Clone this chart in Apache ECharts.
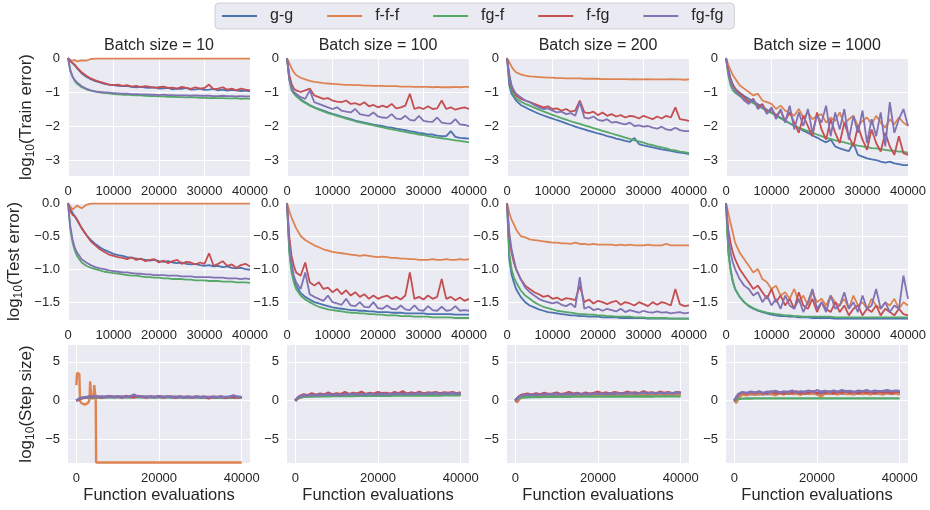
<!DOCTYPE html>
<html><head><meta charset="utf-8">
<script src="https://cdn.jsdelivr.net/npm/echarts@6/dist/echarts.min.js"></script>
<style>html,body{margin:0;padding:0;background:#fff}#c{width:930px;height:510px}</style>
</head><body><div id="c"></div>
<script>
const SERIES_NAMES = ['g-g','f-f-f','fg-f','f-fg','fg-fg'];
const COLORS = ['#4C72B0','#DD8452','#55A868','#C44E52','#8172B3'];
const BATCH_TITLES = ['Batch size = 10','Batch size = 100','Batch size = 200','Batch size = 1000'];
const ROW_NAMES = ['Train error','Test error','Step size'];
const X_TICKS_TOP = [0,10000,20000,30000,40000];
const X_TICKS_STEP = [0,20000,40000];
const Y_TICKS_TRAIN = [-3,-2,-1,0];
const Y_TICKS_TEST = [-1.5,-1,-0.5,0];
const Y_TICKS_STEP = [-5,0,5];

const X = [0,500,1000,1500,2000,
 3000,4000,5000,6000,7000,8000,9000,10000,11000,12000,
 13000,14000,15000,16000,17000,18000,19000,20000,21000,22000,
 23000,24000,25000,26000,27000,28000,29000,30000,31000,32000,
 33000,34000,35000,36000,37000,38000,39000,40000];

// ---- Train error, batch 10
const train10_gg = [0,-0.08,-0.15,-0.22,-0.3,
 -0.45,-0.55,-0.62,-0.68,-0.72,-0.76,-0.78,-0.8,-0.82,-0.83,
 -0.82,-0.85,-0.86,-0.84,-0.87,-0.88,-0.86,-0.9,-0.89,-0.88,
 -0.92,-0.9,-0.91,-0.88,-0.93,-0.92,-0.9,-0.94,-0.93,-0.91,
 -0.95,-0.93,-0.96,-0.94,-0.95,-0.97,-0.96,-0.98];
const train10_fff = [0,-0.05,-0.08,-0.06,-0.1,
 -0.07,-0.08,-0.03,-0.02,-0.02,-0.02,-0.02,-0.02,-0.02,-0.02,
 -0.02,-0.02,-0.02,-0.02,-0.02,-0.02,-0.02,-0.02,-0.02,-0.02,
 -0.02,-0.02,-0.02,-0.02,-0.02,-0.02,-0.02,-0.02,-0.02,-0.02,
 -0.02,-0.02,-0.02,-0.02,-0.02,-0.02,-0.02,-0.02];
const train10_fgf = [0,-0.35,-0.55,-0.68,-0.76,
 -0.86,-0.92,-0.96,-0.99,-1.01,-1.03,-1.04,-1.06,-1.07,-1.08,
 -1.08,-1.09,-1.1,-1.1,-1.11,-1.12,-1.12,-1.13,-1.13,-1.14,
 -1.14,-1.15,-1.15,-1.16,-1.15,-1.16,-1.17,-1.17,-1.18,-1.17,
 -1.18,-1.18,-1.19,-1.19,-1.18,-1.2,-1.19,-1.2];
const train10_ffg = [0,-0.1,-0.15,-0.2,-0.28,
 -0.42,-0.52,-0.6,-0.66,-0.7,-0.74,-0.78,-0.8,-0.78,-0.82,
 -0.8,-0.84,-0.82,-0.86,-0.83,-0.85,-0.88,-0.86,-0.84,-0.88,
 -0.87,-0.9,-0.85,-0.88,-0.91,-0.86,-0.9,-0.88,-0.78,-0.92,
 -0.9,-0.86,-0.93,-0.9,-0.95,-0.9,-0.93,-0.95];
const train10_fgfg = [0,-0.38,-0.55,-0.65,-0.72,
 -0.83,-0.9,-0.95,-0.98,-1.0,-1.01,-1.02,-1.03,-1.04,-1.05,
 -1.05,-1.06,-1.06,-1.07,-1.07,-1.08,-1.08,-1.09,-1.08,-1.09,
 -1.09,-1.1,-1.1,-1.1,-1.11,-1.1,-1.11,-1.11,-1.11,-1.12,
 -1.12,-1.11,-1.12,-1.12,-1.13,-1.12,-1.13,-1.13];

// ---- Train error, batch 100
const train100_gg = [0,-0.6,-0.9,-1.02,-1.1,
 -1.22,-1.3,-1.38,-1.45,-1.5,-1.55,-1.6,-1.64,-1.68,-1.72,
 -1.76,-1.8,-1.84,-1.87,-1.9,-1.93,-1.96,-1.98,-2.0,-2.03,
 -2.05,-2.08,-2.1,-2.12,-2.15,-2.17,-2.2,-2.22,-2.25,-2.25,
 -2.28,-2.3,-2.3,-2.15,-2.32,-2.35,-2.36,-2.37];
const train100_fff = [0,-0.15,-0.3,-0.42,-0.5,
 -0.58,-0.63,-0.67,-0.7,-0.72,-0.74,-0.75,-0.76,-0.77,-0.78,
 -0.79,-0.79,-0.8,-0.8,-0.81,-0.81,-0.82,-0.82,-0.82,-0.83,
 -0.83,-0.83,-0.84,-0.84,-0.84,-0.85,-0.85,-0.85,-0.85,-0.86,
 -0.85,-0.86,-0.86,-0.86,-0.85,-0.86,-0.85,-0.85];
const train100_fgf = [0,-0.65,-0.95,-1.05,-1.12,
 -1.24,-1.32,-1.4,-1.46,-1.52,-1.57,-1.62,-1.66,-1.7,-1.74,
 -1.78,-1.82,-1.86,-1.89,-1.92,-1.95,-1.98,-2.01,-2.04,-2.07,
 -2.1,-2.12,-2.15,-2.17,-2.2,-2.22,-2.25,-2.27,-2.3,-2.32,
 -2.34,-2.36,-2.38,-2.4,-2.42,-2.44,-2.46,-2.48];
const train100_ffg = [0,-0.5,-0.75,-0.9,-0.95,
 -1.0,-0.95,-0.9,-1.1,-1.15,-1.2,-1.18,-1.25,-1.28,-1.3,
 -1.25,-1.35,-1.33,-1.38,-1.3,-1.42,-1.38,-1.45,-1.4,-1.45,
 -1.35,-1.48,-1.45,-1.4,-1.05,-1.5,-1.45,-1.5,-1.42,-1.5,
 -1.48,-1.25,-1.5,-1.45,-1.52,-1.48,-1.45,-1.5];
const train100_fgfg = [0,-0.6,-0.85,-1.0,-1.05,
 -1.15,-1.2,-0.95,-1.3,-1.35,-1.4,-1.45,-1.5,-1.45,-1.55,
 -1.58,-1.6,-1.5,-1.65,-1.68,-1.7,-1.6,-1.72,-1.75,-1.76,
 -1.65,-1.78,-1.8,-1.7,-1.82,-1.84,-1.7,-1.85,-1.87,-1.88,
 -1.75,-1.9,-1.92,-1.93,-1.8,-1.95,-1.97,-2.0];

// ---- Train error, batch 200
const train200_gg = [0,-0.8,-1.05,-1.15,-1.25,
 -1.38,-1.45,-1.52,-1.58,-1.64,-1.69,-1.74,-1.78,-1.83,-1.87,
 -1.92,-1.97,-2.02,-2.06,-2.1,-2.14,-2.18,-2.22,-2.25,-2.3,
 -2.33,-2.37,-2.4,-2.44,-2.47,-2.35,-2.53,-2.57,-2.6,-2.63,
 -2.66,-2.69,-2.71,-2.73,-2.76,-2.78,-2.8,-2.83];
const train200_fff = [0,-0.12,-0.25,-0.35,-0.42,
 -0.48,-0.52,-0.54,-0.55,-0.56,-0.57,-0.58,-0.58,-0.59,-0.59,
 -0.6,-0.6,-0.6,-0.6,-0.61,-0.61,-0.61,-0.61,-0.62,-0.62,
 -0.62,-0.62,-0.62,-0.62,-0.63,-0.62,-0.63,-0.63,-0.62,-0.63,
 -0.63,-0.63,-0.63,-0.62,-0.63,-0.63,-0.64,-0.63];
const train200_fgf = [0,-0.6,-0.95,-1.1,-1.18,
 -1.28,-1.35,-1.4,-1.46,-1.52,-1.57,-1.62,-1.67,-1.72,-1.77,
 -1.81,-1.86,-1.9,-1.94,-1.98,-2.02,-2.06,-2.1,-2.14,-2.18,
 -2.22,-2.26,-2.3,-2.34,-2.38,-2.42,-2.45,-2.49,-2.53,-2.56,
 -2.6,-2.63,-2.66,-2.7,-2.72,-2.75,-2.77,-2.8];
const train200_ffg = [0,-0.5,-0.85,-1.0,-1.1,
 -1.2,-1.25,-1.3,-1.35,-1.4,-1.45,-1.42,-1.5,-1.48,-1.55,
 -1.5,-1.58,-1.55,-1.25,-1.6,-1.62,-1.58,-1.68,-1.6,-1.7,
 -1.65,-1.72,-1.68,-1.75,-1.7,-1.72,-1.78,-1.7,-1.75,-1.8,
 -1.72,-1.78,-1.7,-1.75,-1.45,-1.8,-1.82,-1.85];
const train200_fgfg = [0,-0.5,-0.8,-0.95,-1.05,
 -1.15,-1.25,-1.3,-1.38,-1.45,-1.5,-1.48,-1.55,-1.6,-1.58,
 -1.65,-1.62,-1.7,-1.3,-1.75,-1.78,-1.72,-1.82,-1.85,-1.8,
 -1.9,-1.88,-1.92,-1.95,-1.9,-2.0,-1.98,-2.02,-2.0,-2.05,
 -2.08,-2.02,-2.1,-2.12,-2.05,-2.12,-2.15,-2.15];

// ---- Train error, batch 1000
const train1000_gg = [0,-0.3,-0.6,-0.78,-0.9,
 -1.02,-1.12,-1.2,-1.28,-1.36,-1.44,-1.52,-1.6,-1.68,-1.76,
 -1.84,-1.92,-2.0,-2.06,-2.14,-2.2,-2.28,-2.34,-2.42,-2.48,
 -2.4,-2.6,-2.66,-2.7,-2.74,-2.5,-2.85,-2.9,-2.95,-2.98,
 -3.0,-3.05,-3.08,-3.05,-3.1,-3.12,-3.15,-3.15];
const train1000_fff = [0,-0.2,-0.35,-0.5,-0.6,
 -0.8,-0.9,-1.0,-1.1,-1.05,-1.25,-1.3,-1.35,-1.5,-1.4,
 -1.55,-1.6,-1.7,-1.5,-1.75,-1.6,-1.8,-1.7,-1.65,-1.9,
 -1.75,-1.85,-1.6,-1.95,-1.8,-1.7,-2.0,-1.85,-1.75,-1.95,
 -1.7,-1.9,-2.05,-1.8,-1.95,-1.75,-1.9,-2.0];
const train1000_fgf = [0,-0.5,-0.8,-0.95,-1.02,
 -1.12,-1.2,-1.27,-1.33,-1.4,-1.48,-1.55,-1.62,-1.7,-1.78,
 -1.85,-1.92,-1.98,-2.05,-2.1,-2.15,-2.2,-2.25,-2.3,-2.35,
 -2.38,-2.42,-2.45,-2.48,-2.52,-2.55,-2.58,-2.6,-2.62,-2.65,
 -2.66,-2.68,-2.7,-2.72,-2.73,-2.75,-2.76,-2.78];
const train1000_ffg = [0,-0.4,-0.65,-0.8,-0.9,
 -1.05,-1.15,-1.3,-1.2,-1.45,-1.35,-1.6,-1.5,-1.7,-1.55,
 -1.85,-1.6,-1.9,-2.2,-1.7,-2.0,-2.3,-1.6,-2.1,-2.4,
 -1.8,-2.2,-2.5,-1.9,-2.3,-2.6,-2.0,-2.4,-2.7,-2.1,
 -2.5,-2.75,-2.2,-2.6,-2.85,-2.3,-2.8,-2.85];
const train1000_fgfg = [0,-0.45,-0.7,-0.85,-0.95,
 -1.1,-1.25,-1.35,-1.2,-1.5,-1.4,-1.65,-1.45,-1.8,-1.5,
 -1.9,-1.4,-2.1,-1.6,-2.0,-1.5,-2.2,-1.7,-1.9,-1.4,
 -2.3,-1.6,-2.1,-1.5,-2.4,-1.7,-2.2,-1.55,-2.5,-1.8,
 -2.3,-1.6,-2.6,-1.3,-2.2,-1.8,-1.5,-2.0];

// ---- Test error, batch 10
const test10_gg = [0,-0.08,-0.15,-0.2,-0.26,
 -0.38,-0.48,-0.56,-0.62,-0.67,-0.71,-0.74,-0.77,-0.79,-0.8,
 -0.82,-0.83,-0.84,-0.85,-0.86,-0.87,-0.86,-0.88,-0.89,-0.88,
 -0.9,-0.91,-0.9,-0.92,-0.93,-0.92,-0.94,-0.95,-0.94,-0.96,
 -0.95,-0.97,-0.96,-0.98,-0.99,-0.98,-1.0,-1.01];
const test10_fff = [0,-0.05,-0.1,-0.07,-0.04,
 -0.08,-0.03,-0.01,-0.01,-0.01,-0.01,-0.01,-0.01,-0.01,-0.01,
 -0.01,-0.01,-0.01,-0.01,-0.01,-0.01,-0.01,-0.01,-0.01,-0.01,
 -0.01,-0.01,-0.01,-0.01,-0.01,-0.01,-0.01,-0.01,-0.01,-0.01,
 -0.01,-0.01,-0.01,-0.01,-0.01,-0.01,-0.01,-0.01];
const test10_fgf = [0,-0.4,-0.6,-0.72,-0.8,
 -0.9,-0.95,-0.98,-1.0,-1.02,-1.04,-1.05,-1.06,-1.07,-1.08,
 -1.09,-1.1,-1.1,-1.11,-1.12,-1.12,-1.13,-1.13,-1.14,-1.14,
 -1.15,-1.15,-1.15,-1.16,-1.16,-1.17,-1.17,-1.17,-1.18,-1.18,
 -1.18,-1.19,-1.19,-1.19,-1.2,-1.2,-1.2,-1.21];
const test10_ffg = [0,-0.12,-0.18,-0.2,-0.25,
 -0.38,-0.48,-0.58,-0.64,-0.7,-0.74,-0.78,-0.8,-0.82,-0.83,
 -0.85,-0.82,-0.86,-0.84,-0.88,-0.86,-0.85,-0.9,-0.87,-0.91,
 -0.88,-0.86,-0.92,-0.89,-0.9,-0.93,-0.9,-0.92,-0.76,-0.95,
 -0.92,-0.88,-0.95,-0.93,-0.98,-0.94,-0.92,-0.96];
const test10_fgfg = [0,-0.35,-0.55,-0.68,-0.75,
 -0.85,-0.9,-0.94,-0.97,-0.99,-1.0,-1.02,-1.03,-1.04,-1.05,
 -1.05,-1.06,-1.07,-1.07,-1.08,-1.08,-1.09,-1.09,-1.09,-1.1,
 -1.1,-1.1,-1.11,-1.11,-1.11,-1.12,-1.12,-1.12,-1.12,-1.13,
 -1.13,-1.13,-1.14,-1.14,-1.14,-1.15,-1.14,-1.15];

// ---- Test error, batch 100
const test100_gg = [0,-0.7,-1.0,-1.15,-1.25,
 -1.36,-1.42,-1.46,-1.5,-1.52,-1.54,-1.56,-1.58,-1.59,-1.6,
 -1.61,-1.62,-1.62,-1.63,-1.63,-1.64,-1.64,-1.65,-1.65,-1.65,
 -1.66,-1.66,-1.66,-1.67,-1.67,-1.67,-1.67,-1.67,-1.68,-1.68,
 -1.68,-1.68,-1.68,-1.68,-1.69,-1.69,-1.69,-1.69];
const test100_fff = [0,-0.12,-0.22,-0.3,-0.38,
 -0.5,-0.56,-0.6,-0.64,-0.67,-0.7,-0.72,-0.74,-0.75,-0.76,
 -0.77,-0.78,-0.79,-0.8,-0.79,-0.8,-0.81,-0.82,-0.81,-0.82,
 -0.83,-0.83,-0.84,-0.84,-0.85,-0.85,-0.86,-0.86,-0.86,-0.85,
 -0.86,-0.86,-0.85,-0.86,-0.86,-0.85,-0.86,-0.85];
const test100_fgf = [0,-0.75,-1.05,-1.2,-1.3,
 -1.4,-1.46,-1.5,-1.54,-1.57,-1.59,-1.61,-1.62,-1.63,-1.64,
 -1.65,-1.66,-1.66,-1.67,-1.67,-1.68,-1.68,-1.69,-1.69,-1.7,
 -1.7,-1.7,-1.71,-1.71,-1.71,-1.72,-1.72,-1.72,-1.72,-1.73,
 -1.73,-1.73,-1.73,-1.73,-1.74,-1.74,-1.74,-1.74];
const test100_ffg = [0,-0.5,-0.8,-0.95,-1.05,
 -1.1,-0.9,-1.2,-1.25,-1.2,-1.3,-1.28,-1.35,-1.3,-1.38,
 -1.32,-1.4,-1.35,-1.42,-1.38,-1.45,-1.4,-1.45,-1.42,-1.4,
 -1.45,-1.42,-1.46,-1.4,-1.05,-1.45,-1.42,-1.46,-1.4,-1.45,
 -1.42,-1.15,-1.45,-1.42,-1.47,-1.43,-1.48,-1.45];
const test100_fgfg = [0,-0.6,-0.9,-1.1,-1.2,
 -1.3,-1.05,-1.38,-1.42,-1.45,-1.48,-1.4,-1.5,-1.52,-1.54,
 -1.45,-1.55,-1.56,-1.5,-1.57,-1.58,-1.5,-1.59,-1.6,-1.55,
 -1.6,-1.61,-1.55,-1.61,-1.62,-1.55,-1.62,-1.63,-1.56,-1.62,
 -1.63,-1.57,-1.63,-1.62,-1.56,-1.63,-1.62,-1.63];

// ---- Test error, batch 200
const test200_gg = [0,-0.85,-1.08,-1.2,-1.3,
 -1.42,-1.5,-1.55,-1.58,-1.61,-1.63,-1.65,-1.66,-1.67,-1.68,
 -1.69,-1.7,-1.7,-1.71,-1.71,-1.72,-1.72,-1.72,-1.73,-1.73,
 -1.73,-1.73,-1.74,-1.74,-1.74,-1.74,-1.74,-1.74,-1.75,-1.75,
 -1.75,-1.75,-1.75,-1.75,-1.75,-1.75,-1.75,-1.75];
const test200_fff = [0,-0.15,-0.25,-0.32,-0.4,
 -0.5,-0.52,-0.55,-0.56,-0.57,-0.58,-0.59,-0.6,-0.6,-0.61,
 -0.61,-0.62,-0.6,-0.62,-0.62,-0.63,-0.62,-0.63,-0.63,-0.63,
 -0.63,-0.64,-0.63,-0.64,-0.63,-0.64,-0.64,-0.64,-0.63,-0.64,
 -0.64,-0.64,-0.62,-0.64,-0.64,-0.64,-0.64,-0.64];
const test200_fgf = [0,-0.75,-1.0,-1.12,-1.2,
 -1.32,-1.4,-1.45,-1.5,-1.54,-1.57,-1.59,-1.61,-1.63,-1.64,
 -1.65,-1.66,-1.67,-1.68,-1.68,-1.69,-1.69,-1.7,-1.7,-1.71,
 -1.71,-1.72,-1.72,-1.72,-1.72,-1.73,-1.73,-1.73,-1.74,-1.74,
 -1.74,-1.74,-1.74,-1.75,-1.75,-1.75,-1.75,-1.75];
const test200_ffg = [0,-0.5,-0.75,-0.9,-1.0,
 -1.15,-1.25,-1.3,-1.35,-1.38,-1.42,-1.4,-1.45,-1.43,-1.47,
 -1.44,-1.45,-1.47,-1.25,-1.5,-1.46,-1.52,-1.48,-1.5,-1.53,
 -1.5,-1.48,-1.54,-1.5,-1.52,-1.55,-1.5,-1.53,-1.56,-1.5,
 -1.54,-1.5,-1.52,-1.55,-1.3,-1.53,-1.56,-1.55];
const test200_fgfg = [0,-0.45,-0.7,-0.85,-1.0,
 -1.15,-1.28,-1.35,-1.4,-1.45,-1.48,-1.5,-1.52,-1.5,-1.54,
 -1.56,-1.52,-1.58,-1.12,-1.6,-1.57,-1.62,-1.6,-1.63,-1.6,
 -1.62,-1.64,-1.6,-1.65,-1.62,-1.64,-1.66,-1.63,-1.65,-1.66,
 -1.64,-1.66,-1.65,-1.67,-1.66,-1.65,-1.67,-1.66];

// ---- Test error, batch 1000
const test1000_gg = [0,-0.7,-1.0,-1.18,-1.3,
 -1.42,-1.5,-1.56,-1.6,-1.63,-1.65,-1.67,-1.69,-1.7,-1.71,
 -1.71,-1.72,-1.72,-1.73,-1.73,-1.73,-1.74,-1.74,-1.74,-1.74,
 -1.74,-1.75,-1.75,-1.75,-1.75,-1.75,-1.75,-1.75,-1.75,-1.75,
 -1.75,-1.75,-1.75,-1.75,-1.75,-1.75,-1.75,-1.75];
const test1000_fff = [0,-0.15,-0.3,-0.45,-0.6,
 -0.75,-0.85,-0.95,-1.05,-1.0,-1.15,-1.2,-1.3,-1.25,-1.4,
 -1.35,-1.45,-1.3,-1.5,-1.4,-1.55,-1.35,-1.5,-1.45,-1.55,
 -1.4,-1.5,-1.55,-1.45,-1.6,-1.4,-1.55,-1.5,-1.6,-1.45,
 -1.55,-1.6,-1.5,-1.55,-1.45,-1.6,-1.5,-1.55];
const test1000_fgf = [0,-0.75,-1.02,-1.2,-1.3,
 -1.42,-1.5,-1.55,-1.59,-1.62,-1.64,-1.66,-1.67,-1.68,-1.69,
 -1.7,-1.7,-1.71,-1.71,-1.72,-1.72,-1.72,-1.72,-1.72,-1.72,
 -1.72,-1.73,-1.73,-1.73,-1.73,-1.73,-1.73,-1.73,-1.73,-1.73,
 -1.73,-1.73,-1.73,-1.73,-1.73,-1.73,-1.73,-1.73];
const test1000_ffg = [0,-0.4,-0.6,-0.75,-0.85,
 -1.0,-1.1,-1.2,-1.3,-1.25,-1.35,-1.45,-1.3,-1.5,-1.4,
 -1.55,-1.45,-1.6,-1.35,-1.55,-1.6,-1.45,-1.65,-1.5,-1.6,
 -1.65,-1.5,-1.65,-1.55,-1.7,-1.6,-1.55,-1.7,-1.6,-1.65,
 -1.55,-1.7,-1.6,-1.65,-1.7,-1.6,-1.68,-1.7];
const test1000_fgfg = [0,-0.5,-0.75,-0.9,-1.0,
 -1.15,-1.25,-1.3,-1.4,-1.35,-1.5,-1.4,-1.55,-1.45,-1.6,
 -1.4,-1.55,-1.6,-1.45,-1.65,-1.5,-1.3,-1.6,-1.5,-1.65,
 -1.4,-1.6,-1.55,-1.35,-1.6,-1.5,-1.65,-1.4,-1.6,-1.55,
 -1.3,-1.6,-1.5,-1.65,-1.55,-1.6,-1.1,-1.45];

// ---- Step size, batch 10
const step10_gg = [0,0.15,0.3,0.35,0.4,
 0.42,0.45,0.45,0.48,0.45,0.5,0.47,0.48,0.5,0.46,
 0.5,0.48,0.52,0.47,0.5,0.48,0.45,0.5,0.47,0.5,
 0.45,0.48,0.45,0.42,0.47,0.45,0.43,0.46,0.44,0.45,
 0.43,0.46,0.44,0.45,0.43,0.46,0.48,0.45];
const step10_fff_x = [0,200,400,600,750,900,1200,1600,2000,2500,3000,3200,3350,3500,3700,3900,4200,4350,4500,4700,4800,40000];
const step10_fff = [2.0,3.6,3.5,3.7,3.4,0.0,-0.3,-0.4,-0.5,-0.4,-0.2,0.2,2.5,2.4,0.3,0.1,0.3,2.0,1.9,0.2,-7.95,-7.95];
const step10_fgf = [0,0.2,0.3,0.35,0.38,
 0.4,0.42,0.42,0.43,0.43,0.44,0.44,0.44,0.45,0.45,
 0.45,0.45,0.45,0.45,0.45,0.45,0.45,0.45,0.44,0.44,
 0.44,0.44,0.43,0.43,0.43,0.43,0.43,0.42,0.42,0.42,
 0.42,0.42,0.42,0.42,0.42,0.42,0.42,0.42];
const step10_ffg = [0,0.1,0.25,0.35,0.4,
 0.5,0.45,0.55,0.4,0.5,0.6,0.45,0.55,0.4,0.6,
 0.5,0.45,0.6,0.5,0.4,0.55,0.45,0.6,0.4,0.5,
 0.55,0.35,0.55,0.45,0.5,0.4,0.55,0.45,0.5,0.3,
 0.5,0.45,0.55,0.35,0.5,0.45,0.4,0.5];
const step10_fgfg = [0,0.2,0.35,0.4,0.45,
 0.5,0.55,0.5,0.55,0.5,0.55,0.5,0.55,0.5,0.52,
 0.55,0.8,0.5,0.55,0.5,0.52,0.5,0.55,0.5,0.52,
 0.48,0.5,0.52,0.48,0.5,0.48,0.5,0.47,0.5,0.48,
 0.5,0.47,0.5,0.48,0.5,0.7,0.5,0.45];

// ---- Step size, batch 100
const step100_gg = [0,0.3,0.45,0.55,0.6,
 0.65,0.7,0.72,0.7,0.75,0.72,0.78,0.75,0.8,0.77,
 0.8,0.78,0.82,0.8,0.83,0.8,0.85,0.82,0.85,0.83,
 0.86,0.84,0.87,0.85,0.88,0.85,0.88,0.86,0.9,0.87,
 0.9,0.88,0.9,0.88,0.92,0.9,0.92,0.9];
const step100_fff = [0,0.2,0.35,0.45,0.5,
 0.55,0.6,0.62,0.6,0.65,0.62,0.68,0.65,0.7,0.66,
 0.72,0.68,0.7,0.72,0.7,0.74,0.7,0.75,0.72,0.76,
 0.72,0.75,0.78,0.74,0.78,0.75,0.8,0.76,0.78,0.8,
 0.76,0.8,0.78,0.82,0.78,0.8,0.82,0.8];
const step100_fgf = [0,0.3,0.4,0.45,0.5,
 0.52,0.55,0.56,0.57,0.58,0.58,0.59,0.6,0.6,0.6,
 0.61,0.61,0.62,0.62,0.62,0.63,0.63,0.63,0.64,0.64,
 0.64,0.65,0.65,0.65,0.65,0.66,0.66,0.66,0.66,0.67,
 0.67,0.67,0.67,0.68,0.68,0.68,0.68,0.68];
const step100_ffg = [0,0.3,0.6,0.7,0.8,
 0.7,0.95,0.75,0.9,0.8,1.05,0.8,0.95,0.85,1.1,
 0.85,1.0,0.9,1.15,0.85,1.0,0.9,1.1,0.95,1.0,
 0.85,1.1,0.95,1.2,0.9,1.05,0.95,1.15,0.9,1.05,
 1.0,1.1,0.95,1.05,1.0,1.1,0.95,1.05];
const step100_fgfg = [0,0.35,0.55,0.6,0.7,
 0.65,0.75,0.7,0.8,0.7,0.85,0.75,0.8,0.7,0.85,
 0.8,0.9,0.75,0.85,0.8,0.9,0.8,0.85,0.9,0.8,
 0.9,0.85,0.95,0.85,0.9,0.85,0.95,0.9,0.85,0.95,
 0.9,1.0,0.85,0.95,0.9,1.0,0.9,0.95];

// ---- Step size, batch 200
const step200_gg = [0,0.35,0.5,0.6,0.65,
 0.7,0.72,0.75,0.73,0.78,0.75,0.8,0.78,0.8,0.78,
 0.82,0.8,0.84,0.82,0.85,0.82,0.86,0.84,0.87,0.85,
 0.88,0.86,0.9,0.87,0.9,0.88,0.92,0.9,0.92,0.9,
 0.94,0.92,0.94,0.92,0.95,0.93,0.95,0.94];
const step200_fff = [0,-0.2,0.2,0.4,0.5,
 0.55,0.6,0.55,0.65,0.6,0.65,0.6,0.7,0.65,0.7,
 0.65,0.72,0.68,0.7,0.72,0.68,0.74,0.7,0.75,0.72,
 0.74,0.76,0.72,0.75,0.78,0.74,0.76,0.78,0.75,0.8,
 0.76,0.78,0.8,0.76,0.8,0.78,0.8,0.78];
const step200_fgf = [0,0.25,0.35,0.4,0.42,
 0.45,0.47,0.48,0.48,0.49,0.5,0.5,0.5,0.51,0.51,
 0.51,0.52,0.52,0.52,0.52,0.53,0.53,0.53,0.53,0.53,
 0.54,0.54,0.54,0.54,0.54,0.55,0.55,0.55,0.55,0.55,
 0.55,0.56,0.56,0.56,0.56,0.56,0.56,0.56];
const step200_ffg = [0,0.3,0.6,0.75,0.8,
 0.9,0.75,0.95,0.8,1.0,0.85,0.9,1.05,0.85,0.95,
 1.1,0.9,1.0,0.85,1.05,0.9,1.0,1.15,0.95,1.05,
 0.9,1.1,1.0,0.95,1.15,1.0,1.05,0.95,1.2,1.0,
 1.05,0.95,1.15,1.0,1.1,0.95,1.1,1.05];
const step200_fgfg = [0,0.35,0.55,0.65,0.7,
 0.75,0.8,0.72,0.85,0.78,0.88,0.8,0.9,0.78,0.85,
 0.9,0.8,0.92,0.85,0.9,0.82,0.95,0.88,0.92,0.85,
 0.95,0.9,0.98,0.88,0.95,1.0,0.9,0.98,1.05,0.92,
 1.0,0.95,1.05,0.92,1.0,0.95,1.05,1.0];

// ---- Step size, batch 1000
const step1000_gg = [0,0.4,0.6,0.7,0.75,
 0.8,0.82,0.85,0.83,0.87,0.85,0.88,0.86,0.9,0.88,
 0.9,0.88,0.92,0.9,0.92,0.9,0.93,0.91,0.94,0.92,
 0.94,0.92,0.95,0.93,0.95,0.93,0.96,0.94,0.96,0.94,
 0.97,0.95,0.97,0.95,0.97,0.96,0.97,0.96];
const step1000_fff = [0,-0.3,0.3,0.6,0.8,
 0.7,0.9,0.75,0.95,0.8,1.0,0.85,0.7,0.95,0.8,
 1.0,0.85,0.9,0.75,1.0,0.85,0.95,0.8,0.5,1.0,
 0.85,0.95,0.8,1.05,0.85,0.9,0.8,1.0,0.85,0.95,
 0.8,1.0,0.9,0.8,1.05,0.85,0.95,0.8];
const step1000_fgf = [0,0.15,0.22,0.25,0.27,
 0.28,0.29,0.3,0.3,0.3,0.3,0.3,0.3,0.3,0.3,
 0.3,0.3,0.3,0.3,0.3,0.3,0.3,0.3,0.3,0.3,
 0.3,0.3,0.3,0.3,0.3,0.3,0.3,0.3,0.3,0.3,
 0.3,0.3,0.3,0.3,0.3,0.3,0.3,0.3];
const step1000_ffg = [0,0.4,0.8,0.95,1.05,
 0.9,1.1,0.95,1.15,0.9,1.05,1.2,0.95,1.1,0.9,
 1.15,1.0,1.2,0.95,1.1,1.0,1.25,0.95,1.15,1.0,
 1.2,0.95,1.1,1.05,1.25,1.0,1.15,0.95,1.2,1.05,
 1.1,0.95,1.2,1.05,1.15,0.95,1.2,1.1];
const step1000_fgfg = [0,0.5,0.85,1.0,1.1,
 1.0,1.15,1.05,1.2,1.0,1.15,1.1,1.25,1.05,1.2,
 1.1,1.3,1.05,1.2,1.15,1.3,1.1,1.35,1.15,1.25,
 1.1,1.3,1.15,1.35,1.2,1.25,1.1,1.3,1.2,1.35,
 1.15,1.3,1.2,1.25,1.35,1.2,1.3,1.25];

// ---------------- layout & build ----------------
const FONT = "'Liberation Sans', Arial, sans-serif";
const TXT = '#262626';
const COL_LEFT = [68, 287, 507, 726];
const COL_W = 182;
const ROW_TOP = [58, 203, 345];
const ROW_H = [118, 117, 118];
const ROW_LINE_W = [1.8, 1.8, 2.4];

function minus(v, d) {
  const s = d ? Math.abs(v).toFixed(d) : String(Math.abs(v));
  return (v < 0 ? '\u2212' : '') + s;
}

const rows = [
  { yMin: -3.47, yMax: 0, yTicks: Y_TICKS_TRAIN, dec: 0, xMin: 0, xMax: 40000, xTicks: X_TICKS_TOP, nameGap: 31,
    panels: [
      [train10_gg, train10_fff, train10_fgf, train10_ffg, train10_fgfg],
      [train100_gg, train100_fff, train100_fgf, train100_ffg, train100_fgfg],
      [train200_gg, train200_fff, train200_fgf, train200_ffg, train200_fgfg],
      [train1000_gg, train1000_fff, train1000_fgf, train1000_ffg, train1000_fgfg]] },
  { yMin: -1.77, yMax: 0, yTicks: Y_TICKS_TEST, dec: 1, xMin: 0, xMax: 40000, xTicks: X_TICKS_TOP, nameGap: 43,
    panels: [
      [test10_gg, test10_fff, test10_fgf, test10_ffg, test10_fgfg],
      [test100_gg, test100_fff, test100_fgf, test100_ffg, test100_fgfg],
      [test200_gg, test200_fff, test200_fgf, test200_ffg, test200_fgfg],
      [test1000_gg, test1000_fff, test1000_fgf, test1000_ffg, test1000_fgfg]] },
  { yMin: -8.02, yMax: 7.17, yTicks: Y_TICKS_STEP, dec: 0, xMin: -2000, xMax: 42000, xTicks: X_TICKS_STEP, nameGap: 31,
    panels: [
      [step10_gg, step10_fff, step10_fgf, step10_ffg, step10_fgfg],
      [step100_gg, step100_fff, step100_fgf, step100_ffg, step100_fgfg],
      [step200_gg, step200_fff, step200_fgf, step200_ffg, step200_fgfg],
      [step1000_gg, step1000_fff, step1000_fgf, step1000_ffg, step1000_fgfg]] }
];

const grids = [], xAxes = [], yAxes = [], series = [], graphics = [];
const labelStyle = { color: TXT, fontSize: 13, fontFamily: FONT };

rows.forEach((row, r) => {
  row.panels.forEach((panel, c) => {
    const gi = grids.length;
    grids.push({ left: COL_LEFT[c], top: ROW_TOP[r], width: COL_W, height: ROW_H[r],
      show: true, backgroundColor: '#EAEAF2', borderWidth: 0 });
    const xa = { type: 'value', gridIndex: gi, min: row.xMin, max: row.xMax,
      axisLine: { show: false }, axisTick: { show: false, customValues: row.xTicks },
      axisLabel: Object.assign({ customValues: row.xTicks, margin: 9, formatter: v => String(v) }, labelStyle),
      splitLine: { show: true, lineStyle: { color: '#ffffff', width: 1 } } };
    if (r === 2) {
      xa.name = 'Function evaluations';
      xa.nameLocation = 'middle';
      xa.nameGap = 24;
      xa.nameTextStyle = { color: TXT, fontSize: 16.5, fontFamily: FONT };
    }
    xAxes.push(xa);
    const ya = { type: 'value', gridIndex: gi, min: row.yMin, max: row.yMax,
      axisLine: { show: false }, axisTick: { show: false, customValues: row.yTicks },
      axisLabel: Object.assign({ customValues: row.yTicks, margin: 8, formatter: v => minus(v, row.dec) }, labelStyle),
      splitLine: { show: true, lineStyle: { color: '#ffffff', width: 1 } } };
    if (c === 0) {
      ya.name = '{a|log}{b|10}{a|(' + ROW_NAMES[r] + ')}';
      ya.nameLocation = 'middle';
      ya.nameGap = row.nameGap;
      ya.nameRotate = 90;
      ya.nameTextStyle = { rich: {
        a: { fontSize: 17, color: TXT, fontFamily: FONT, lineHeight: 22, verticalAlign: 'middle' },
        b: { fontSize: 12, color: TXT, fontFamily: FONT, lineHeight: 12, verticalAlign: 'bottom' } } };
    }
    yAxes.push(ya);
    panel.forEach((ys, k) => {
      const xs = (r === 2 && c === 0 && k === 1) ? step10_fff_x : X;
      if (xs.length !== ys.length) {
        graphics.push({ type: 'text', x: 300, y: 20 + graphics.length * 12, style: { text: 'LEN ERR r' + r + ' c' + c + ' k' + k + ' ' + ys.length, fill: 'red' } });
      }
      series.push({ type: 'line', name: SERIES_NAMES[k], xAxisIndex: gi, yAxisIndex: gi,
        data: ys.map((y, i) => [xs[i], y]), symbol: 'none', showSymbol: false, animation: false,
        lineStyle: { width: ROW_LINE_W[r], color: COLORS[k] }, itemStyle: { color: COLORS[k] }, z: 2 + k });
    });
  });
});

BATCH_TITLES.forEach((t, c) => {
  graphics.push({ type: 'text', x: COL_LEFT[c] + COL_W / 2, y: 45.5,
    style: { text: t, fill: TXT, font: '16px ' + FONT, textAlign: 'center', textVerticalAlign: 'middle' } });
});

const chart = echarts.init(document.getElementById('c'), null, { renderer: 'canvas' });
chart.setOption({
  animation: false,
  color: COLORS,
  grid: grids, xAxis: xAxes, yAxis: yAxes, series: series,
  legend: { data: SERIES_NAMES.map((n, k) => ({ name: n, icon: 'rect', itemStyle: { color: COLORS[k] } })),
    left: 215, top: 3, itemWidth: 35, itemHeight: 2, itemGap: 34,
    textStyle: { fontSize: 16, color: TXT, fontFamily: FONT, padding: [0, 0, 0, 8] },
    backgroundColor: '#EAEAF2', borderColor: '#D0D0D0', borderWidth: 1, borderRadius: 4,
    padding: [5, 11, 5, 7] },
  graphic: graphics
});
</script></body></html>
